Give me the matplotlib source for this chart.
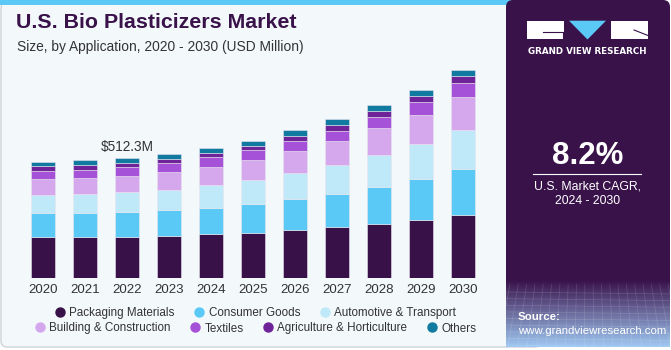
import matplotlib
matplotlib.use("Agg")
import matplotlib.pyplot as plt
import numpy as np
from matplotlib.patches import FancyBboxPatch, Rectangle, Polygon
from matplotlib.lines import Line2D

years = ["2020", "2021", "2022", "2023", "2024", "2025", "2026", "2027", "2028", "2029", "2030"]
series_names = ["Packaging Materials", "Consumer Goods", "Automotive & Transport",
                "Building & Construction", "Textiles", "Agriculture & Horticulture", "Others"]
packaging = [176, 176, 176, 179, 188, 193, 206, 219, 232, 249, 270]
consumer = [102, 102, 107, 111, 114, 125, 134, 142, 158, 175, 198]
automotive = [77, 80, 84, 88, 96, 101, 111, 121, 138, 149, 164]
building = [68, 71, 70, 76, 78, 87, 94, 104, 113, 125, 143]
textiles = [34, 33, 39, 40, 43, 41, 40, 44, 47, 54, 57]
agriculture = [21, 23, 17, 17, 18, 20, 21, 26, 27, 27, 30]
others = [17, 19, 19.3, 20, 19, 21, 26, 26, 27, 27, 28]
annot_year_idx = 2
annot_label = "$512.3M"
colors = ["#381149", "#5bc9f6", "#bfe9f9", "#d5a7ec", "#a551d8", "#6e2399", "#117aa0"]

W, H = 671, 350
fig = plt.figure(figsize=(W / 100, H / 100), dpi=100)
fig.patch.set_facecolor("white")

def fx(x):
    return x / W

def fy(y):
    return 1 - y / H

# background panels
bg = fig.add_axes([0, 0, 1, 1])
bg.set_xlim(0, W)
bg.set_ylim(H, 0)
bg.axis("off")
bg.add_patch(FancyBboxPatch((1, 2), 540, 345, boxstyle="round,pad=0,rounding_size=6",
                            facecolor="#f3f8fb", edgecolor="#cfd3d6", lw=1.0))
bg.add_patch(Rectangle((0, 0), 515, 4.5, facecolor="#5bc9f6", edgecolor="none"))
# right dark panel
bg.add_patch(FancyBboxPatch((506, 0), 164, 347, boxstyle="round,pad=0,rounding_size=7",
                            facecolor="#39124a", edgecolor="none"))
# gradient at bottom of right panel
grad = np.linspace(0, 1, 100)[:, None]
c0 = np.array([0x39, 0x12, 0x4a]) / 255
c1 = np.array([0x9f, 0xc8, 0xf2]) / 255
img = c0[None, None, :] * (1 - grad[:, :, None]) + c1[None, None, :] * grad[:, :, None]
img = np.repeat(img, 2, axis=1)
bg.imshow(img, extent=(506, 670, 347, 280), aspect="auto", zorder=1)
for yy in np.linspace(292, 345, 9):
    bg.plot([506, 670], [yy, yy + 2], color="white", alpha=0.15, lw=0.5, zorder=2)
for xx in np.linspace(510, 668, 20):
    bg.plot([xx, xx + (xx - 588) * 0.15], [284, 347], color="white", alpha=0.15, lw=0.5, zorder=2)

# logo
bg.add_patch(Rectangle((527, 20.7), 37, 18.6, facecolor="white", edgecolor="none", zorder=3))
bg.plot([543, 563], [32, 32], color="#39124a", lw=0.8, zorder=4)
bg.plot([563, 563], [32, 39.3], color="#39124a", lw=0.8, zorder=4)
bg.add_patch(Polygon([(569, 20.7), (606, 20.7), (587.5, 39.5)], closed=True,
                     facecolor="#5bc9f6", edgecolor="none", zorder=3))
bg.add_patch(Rectangle((611, 20.7), 37, 18.6, facecolor="white", edgecolor="none", zorder=3))
bg.plot([634, 648], [30, 35.5], color="#39124a", lw=0.8, zorder=4)
bg.text(587.5, 51, "GRAND VIEW RESEARCH", color="white", fontsize=6.3, fontweight="bold",
        ha="center", va="center", family="DejaVu Sans", zorder=4)

bg.text(588, 156, "8.2%", color="white", fontsize=22.5, fontweight="bold", ha="center", va="center",
        family="Liberation Sans", zorder=4)
bg.plot([533, 641], [173.5, 173.5], color="white", lw=0.8, zorder=4)
bg.text(588, 186.5, "U.S. Market CAGR,", color="white", fontsize=8.8, ha="center", va="center",
        family="Liberation Sans", zorder=4)
bg.text(588, 200.5, "2024 - 2030", color="white", fontsize=8.8, ha="center", va="center",
        family="Liberation Sans", zorder=4)
bg.text(518, 316.5, "Source:", color="white", fontsize=8.2, fontweight="bold", ha="left", va="center",
        family="Liberation Sans", zorder=4)
bg.text(518, 330.5, "www.grandviewresearch.com", color="white", fontsize=8.2, ha="left", va="center",
        family="Liberation Sans", zorder=4)

# title
bg.text(16, 22, "U.S. Bio Plasticizers Market", color="#39124a", fontsize=15.4, fontweight="bold",
        ha="left", va="center", family="Liberation Sans")
bg.text(17, 47, "Size, by Application, 2020 - 2030 (USD Million)", color="#333333", fontsize=9.9,
        ha="left", va="center", family="Liberation Sans")

# chart axes
px_per_unit = 1 / 4.27
base_y = 278.3
top_val = 1000
ax_top = base_y - top_val * px_per_unit
ax = fig.add_axes([fx(22), fy(base_y), fx(484) - fx(22), (base_y - ax_top) / H])
ax.set_xlim(-0.5, 10.5)
ax.set_ylim(0, top_val)
ax.patch.set_alpha(0)
for s in ax.spines.values():
    s.set_visible(False)
ax.set_yticks([])
x = np.arange(len(years))
data = [packaging, consumer, automotive, building, textiles, agriculture, others]
bottom = np.zeros(len(years))
for vals, col, name in zip(data, colors, series_names):
    ax.bar(x, vals, bottom=bottom, width=0.57, color=col, edgecolor="#eae4ef", linewidth=0.4,
           label=name, zorder=2)
    bottom += np.array(vals)
ax.set_xticks(x)
ax.set_xticklabels(years, fontsize=9.5, color="#333333", family="Liberation Sans")
ax.tick_params(axis="x", length=0, pad=4)
ax.text(x[annot_year_idx], bottom[annot_year_idx] + 18, annot_label, ha="center", va="bottom",
        fontsize=9.8, color="#333333", family="Liberation Sans")

# legend
def handle(c):
    return Line2D([], [], marker="o", linestyle="none", markersize=6.5, markerfacecolor=c,
                  markeredgecolor=c)

row1 = [0, 1, 2]
row2 = [3, 4, 5, 6]
leg1 = fig.legend([handle(colors[i]) for i in row1], [series_names[i] for i in row1],
                  loc="center", bbox_to_anchor=(fx(255), fy(313)), ncol=3, frameon=False,
                  handletextpad=0.3, columnspacing=1.6, handlelength=1.0,
                  prop={"family": "Liberation Sans", "size": 8.4})
for t in leg1.get_texts():
    t.set_color("#333333")
leg2 = fig.legend([handle(colors[i]) for i in row2], [series_names[i] for i in row2],
                  loc="center", bbox_to_anchor=(fx(255), fy(328.5)), ncol=4, frameon=False,
                  handletextpad=0.3, columnspacing=1.6, handlelength=1.0,
                  prop={"family": "Liberation Sans", "size": 8.4})
for t in leg2.get_texts():
    t.set_color("#333333")

fig.savefig("out.png", dpi=100, facecolor="white")
